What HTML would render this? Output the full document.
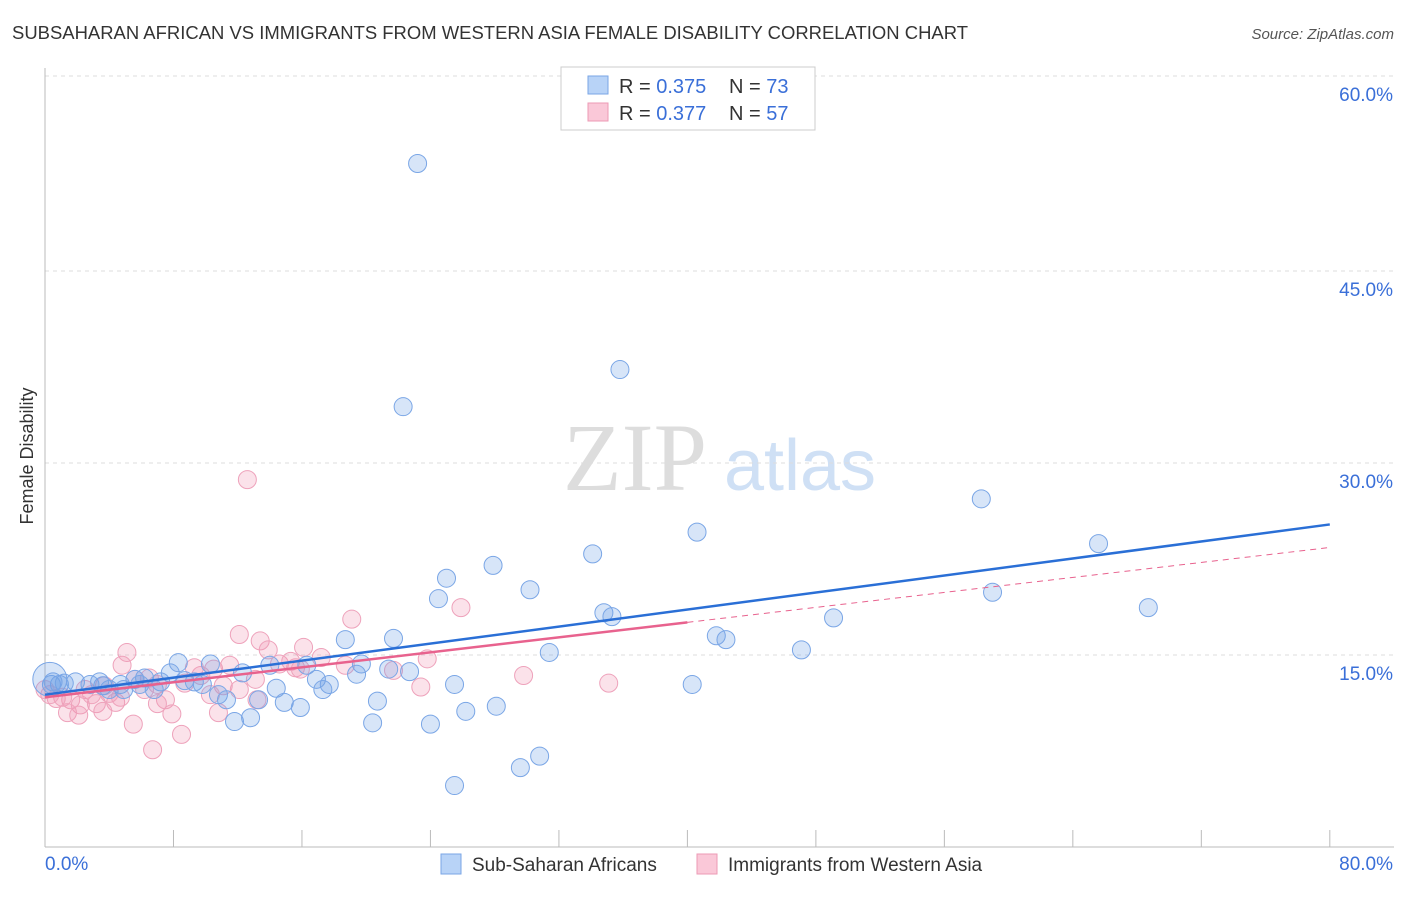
<!DOCTYPE html>
<html><head><meta charset="utf-8"><style>
body{margin:0;background:#fff;font-family:"Liberation Sans",sans-serif}
</style></head><body>
<svg id="c" width="1406" height="892" xmlns="http://www.w3.org/2000/svg">
<text x="12" y="39" font-size="18" fill="#333" textLength="956" lengthAdjust="spacingAndGlyphs">SUBSAHARAN AFRICAN VS IMMIGRANTS FROM WESTERN ASIA FEMALE DISABILITY CORRELATION CHART</text>
<text x="1394" y="39" font-size="15" fill="#555" font-style="italic" text-anchor="end">Source: ZipAtlas.com</text>
<text x="33" y="456" font-size="18" fill="#333" transform="rotate(-90 33 456)" text-anchor="middle">Female Disability</text>
<text x="635" y="490" font-size="96" fill="#ddd" font-family="Liberation Serif,serif" text-anchor="middle">ZIP</text>
<text x="800" y="490" font-size="72" fill="#cfe0f5" text-anchor="middle">atlas</text>
<g id="grid"></g><g id="pts"></g><g id="lines"></g>
<g>
<rect x="561" y="67" width="254" height="63" fill="#fff" stroke="#ccc"/>
<rect x="588" y="76" width="20" height="18" fill="#b8d3f7" stroke="#7aa6e6"/>
<rect x="588" y="103" width="20" height="18" fill="#fac8d8" stroke="#ec9ab5"/>
<text x="619" y="93" font-size="20" fill="#333">R = <tspan fill="#3a6fd8">0.375</tspan></text>
<text x="729" y="93" font-size="20" fill="#333">N = <tspan fill="#3a6fd8">73</tspan></text>
<text x="619" y="120" font-size="20" fill="#333">R = <tspan fill="#3a6fd8">0.377</tspan></text>
<text x="729" y="120" font-size="20" fill="#333">N = <tspan fill="#3a6fd8">57</tspan></text>
</g>
<g>
<rect x="441" y="854" width="20" height="20" fill="#b8d3f7" stroke="#7aa6e6"/>
<text x="472" y="871" font-size="19" fill="#333">Sub-Saharan Africans</text>
<rect x="697" y="854" width="20" height="20" fill="#fac8d8" stroke="#ec9ab5"/>
<text x="728" y="871" font-size="19" fill="#333">Immigrants from Western Asia</text>
</g>
</svg>
<script>
const yTicks=[15,30,45,60];
const xTickLabels=["0.0%","80.0%"];
const blueX=[23.2,35.8,22.3,58.3,40.6,65.6,34.1,27.9,25.0,30.2,59.0,24.5,68.7,34.8,35.3,49.1,41.8,42.4,18.7,21.7,47.1,31.4,8.3,10.3,16.3,19.7,7.8,12.3,6.2,5.6,4.7,2.8,1.9,0.9,0.4,3.6,4.9,8.7,9.3,9.8,14.0,16.9,17.7,19.4,21.4,22.7,17.3,14.4,10.8,11.3,13.3,14.9,15.9,20.7,25.5,40.3,26.2,28.1,20.4,24.0,11.8,12.8,30.8,29.6,25.5,6.8,7.2,4.0,1.2,0.5,5.9,3.4,0.3];
const blueY=[53.4,37.3,34.4,27.2,24.6,23.7,22.9,22.0,21.0,20.1,19.9,19.4,18.7,18.3,18.0,17.9,16.5,16.2,16.2,16.3,15.4,15.2,14.4,14.3,14.2,14.3,13.6,13.6,13.2,13.1,12.7,12.7,12.9,12.7,12.7,12.6,12.3,13.0,12.9,12.7,14.2,13.1,12.7,13.5,13.9,13.7,12.3,12.4,11.9,11.5,11.5,11.3,10.9,11.4,12.7,12.7,10.6,11.0,9.7,9.6,9.8,10.1,7.1,6.2,4.8,12.3,12.9,12.3,12.8,12.9,12.7,12.9,13.1];
const pinkX=[12.6,25.9,19.1,12.1,13.4,13.9,5.1,16.1,17.2,14.6,4.8,10.5,23.8,21.7,29.8,35.1,23.4,13.1,12.1,6.5,7.0,3.7,2.5,1.6,0.7,1.1,2.2,3.2,4.4,5.6,7.5,7.0,10.8,13.2,5.5,7.9,8.5,6.7,1.4,2.1,3.6,0.3,0.0,9.7,9.3,11.5,15.3,18.7,15.6,8.7,11.1,6.2,4.0,2.9,4.7,10.3,15.9];
const pinkY=[28.7,18.7,17.8,16.6,16.1,15.4,15.2,15.6,14.8,14.3,14.2,13.9,14.7,13.8,13.4,12.8,12.5,13.1,12.3,13.2,12.7,12.6,12.3,11.5,11.6,11.7,11.1,11.2,11.3,13.1,11.5,11.2,10.5,11.5,9.6,10.4,8.8,7.6,10.5,10.3,10.6,11.9,12.3,13.4,14.0,14.2,14.5,14.2,14.0,12.8,12.6,12.3,12.0,11.9,11.7,11.9,13.9];
const blueTrend=[11.9,25.2];
const pinkTrend=[11.7,23.4];
const X=v=>45+v*16.06, Y=v=>847-v*12.8;
const NS="http://www.w3.org/2000/svg";
function mk(t,a,p){const e=document.createElementNS(NS,t);for(const k in a)e.setAttribute(k,a[k]);p.appendChild(e);return e;}
const g=document.getElementById('grid');
yTicks.forEach(t=>{
 const yy=Y(t)-(t==60?3:0);
 const l=mk('line',{x1:45,x2:1394,y1:yy,y2:yy,stroke:'#ddd','stroke-dasharray':'4,4'},g);
 
 
 const tx=mk('text',{x:1393,y:yy+25,'font-size':19,fill:'#3a6fd8','text-anchor':'end'},g);
 tx.textContent=t.toFixed(1)+'%';
 
 
});
mk('line',{x1:45,x2:45,y1:68,y2:847,stroke:'#bbb'},g);
mk('line',{x1:45,x2:1394,y1:847,y2:847,stroke:'#bbb'},g);
for(let i=1;i<=10;i++){mk('line',{x1:X(i*8),x2:X(i*8),y1:830,y2:847,stroke:'#bbb'},g);}
[[0,45,'start'],[80,1393,'end']].forEach((d,i)=>{const t=mk('text',{x:d[1],y:870,'font-size':19,fill:'#3a6fd8','text-anchor':d[2]},g);t.textContent=xTickLabels[i];

});
const p=document.getElementById('pts');
pinkX.forEach((x,i)=>{const c=mk('circle',{cx:X(x),cy:Y(pinkY[i]),r:9,fill:'rgba(242,150,180,0.28)',stroke:'#eea2bb','stroke-width':1},p);

});
blueX.forEach((x,i)=>{const c=mk('circle',{cx:X(x),cy:Y(blueY[i]),r:i==blueX.length-1?17:9,fill:'rgba(110,160,230,0.28)',stroke:'#7aa6e6','stroke-width':1},p);

});
const L=document.getElementById('lines');
const lb=mk('line',{x1:X(0),y1:Y(blueTrend[0]),x2:X(80),y2:Y(blueTrend[1]),stroke:'#2a6fd6','stroke-width':2.5},L);


const pm=pinkTrend[0]+(pinkTrend[1]-pinkTrend[0])*0.5;
const lp=mk('line',{x1:X(0),y1:Y(pinkTrend[0]),x2:X(40),y2:Y(pm),stroke:'#e8628e','stroke-width':2.5},L);


const ld=mk('line',{x1:X(40),y1:Y(pm),x2:X(80),y2:Y(pinkTrend[1]),stroke:'#e8628e','stroke-width':1,'stroke-dasharray':'6,5'},L);


</script>
</body></html>
